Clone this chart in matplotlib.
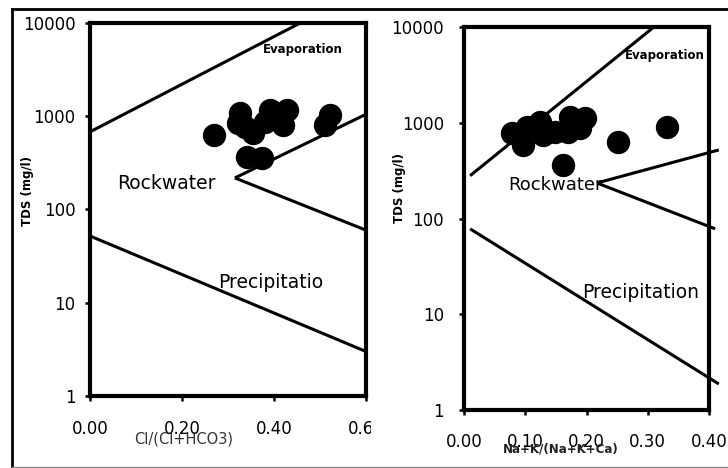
import matplotlib
matplotlib.use("Agg")
import matplotlib.pyplot as plt
from matplotlib.lines import Line2D
from matplotlib.patches import Rectangle
from matplotlib.ticker import FixedLocator, FuncFormatter

plt.rcParams['font.family'] = ['DejaVu Sans']

# ---------------- data ----------------
# Left panel: Cl/(Cl+HCO3) vs TDS
cl_ratio = [0.270, 0.326, 0.322, 0.337, 0.354, 0.341, 0.374, 0.391, 0.428, 0.380, 0.420, 0.522, 0.511]
cl_tds   = [631,   1085,  847,   760,   662,   367,   357,   1170,  1170,  869,   807,   1032,  807]

# Right panel: Na+K/(Na+K+Ca) vs TDS
na_ratio = [0.078, 0.096, 0.103, 0.124, 0.129, 0.148, 0.173, 0.170, 0.197, 0.189, 0.251, 0.162, 0.331]
na_tds   = [781,   586,   903,   1019,  745,   800,   1148,  800,   1122,  881,   630,   362,   903]

# Gibbs boundary lines (x pairs, TDS pairs)
left_evap_x,  left_evap_y  = [0.0, 0.457], [680, 10000]
left_wup_x,   left_wup_y   = [0.315, 0.60], [218, 1050]
left_wlo_x,   left_wlo_y   = [0.315, 0.60], [218, 60]
left_prec_x,  left_prec_y  = [0.0, 0.60], [52, 3.0]

right_evap_x, right_evap_y = [0.01, 0.31], [280, 10000]
right_wup_x,  right_wup_y  = [0.217, 0.416], [235, 520]
right_wlo_x,  right_wlo_y  = [0.217, 0.41], [235, 78]
right_prec_x, right_prec_y = [0.01, 0.416], [78, 1.87]

y_ticks = [1, 10, 100, 1000, 10000]
left_x_ticks = [0.0, 0.2, 0.4, 0.6]
right_x_ticks = [0.0, 0.1, 0.2, 0.3, 0.4]

# ---------------- figure ----------------
W, H = 728, 468
fig = plt.figure(figsize=(W / 100, H / 100), dpi=100)


def fx(x):
    return x / W


def fy(y):
    return 1 - y / H


def style_axes(ax, xticks, xmax, xpad, ypad, fs):
    ax.set_yscale('log')
    ax.set_ylim(1, 10000)
    ax.set_xlim(0, xmax)
    ax.yaxis.set_major_locator(FixedLocator(y_ticks))
    ax.yaxis.set_minor_locator(FixedLocator([]))
    ax.yaxis.set_major_formatter(FuncFormatter(lambda v, p: f"{v:.0f}"))
    ax.xaxis.set_major_locator(FixedLocator(xticks))
    ax.xaxis.set_major_formatter(FuncFormatter(lambda v, p: f"{v:.2f}"))
    for s in ax.spines.values():
        s.set_linewidth(3.0)
        s.set_color('black')
    ax.tick_params(axis='both', direction='out', length=3.5, width=1.8,
                   labelsize=fs, colors='black')
    ax.tick_params(axis='x', pad=xpad)
    ax.tick_params(axis='y', pad=ypad)
    ax.set_facecolor('white')


# Left axes
ax1 = fig.add_axes([fx(90), fy(396), fx(276), 373 / H])
style_axes(ax1, left_x_ticks, 0.6, 14, 7, 12)
lk = dict(color='black', lw=2.2, solid_capstyle='butt', clip_on=False)
ax1.plot(left_evap_x, left_evap_y, **lk)
ax1.plot(left_wup_x, left_wup_y, **lk)
ax1.plot(left_wlo_x, left_wlo_y, **lk)
ax1.plot(left_prec_x, left_prec_y, **lk)
ax1.scatter(cl_ratio, cl_tds, s=250, color='black', zorder=3, clip_on=False)

# Right axes
ax2 = fig.add_axes([fx(464), fy(410), fx(245), 383 / H])
style_axes(ax2, right_x_ticks, 0.4, 13, 11, 12)
ax2.plot(right_evap_x, right_evap_y, **lk)
ax2.plot(right_wup_x, right_wup_y, **lk)
ax2.plot(right_wlo_x, right_wlo_y, **lk)
ax2.plot(right_prec_x, right_prec_y, **lk)
ax2.scatter(na_ratio, na_tds, s=250, color='black', zorder=3, clip_on=False)

# Cover the clipped part of the left panel's last x label
fig.add_artist(Rectangle((fx(371), fy(446)), fx(60), (446 - 412) / H,
                         transform=fig.transFigure, facecolor='white',
                         edgecolor='none', zorder=5))
# Re-draw right panel label area over the cover (keep right labels visible)
ax2.set_zorder(6)
ax2.patch.set_alpha(0)

# Outer frame
fig.add_artist(Line2D([fx(12), fx(728)], [fy(9), fy(9)], color='black', lw=2.0,
                      transform=fig.transFigure, zorder=7))
fig.add_artist(Line2D([fx(12), fx(12)], [fy(9), fy(467)], color='black', lw=2.0,
                      transform=fig.transFigure, zorder=7))
fig.add_artist(Line2D([fx(12), fx(728)], [fy(466.5), fy(466.5)], color='#888888', lw=1.0,
                      transform=fig.transFigure, zorder=7))

# Texts
fig.text(fx(303), fy(49), "Evaporation", fontsize=8.5, fontweight='bold', ha='center', va='center')
fig.text(fx(166), fy(184), "Rockwater", fontsize=13.5, ha='center', va='center')
fig.text(fx(271), fy(283), "Precipitatio", fontsize=13.5, ha='center', va='center')
fig.text(fx(28), fy(191), "TDS (mg/l)", fontsize=8.5, fontweight='bold', rotation=90,
         ha='center', va='center')
fig.text(fx(184), fy(439), "Cl/(Cl+HCO3)", fontsize=10.5, color='#333333', ha='center', va='center')

fig.text(fx(665), fy(55), "Evaporation", fontsize=8.5, fontweight='bold', ha='center', va='center', zorder=8)
fig.text(fx(555), fy(185), "Rockwater", fontsize=13, ha='center', va='center')
fig.text(fx(641), fy(292), "Precipitation", fontsize=13.5, ha='center', va='center', zorder=8)
fig.text(fx(399), fy(188), "TDS (mg/l)", fontsize=8.5, fontweight='bold', rotation=90,
         ha='center', va='center', zorder=8)
fig.text(fx(561), fy(449), "Na+K/(Na+K+Ca)", fontsize=8.6, fontweight='bold', color='#222222',
         ha='center', va='center', zorder=8)

fig.savefig("out.png", dpi=100, facecolor='white')
